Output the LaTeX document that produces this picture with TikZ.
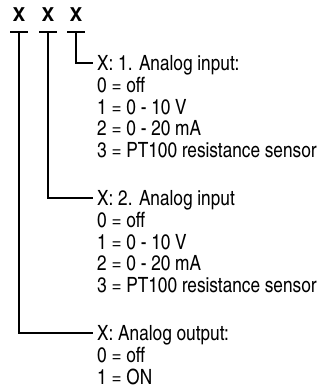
\documentclass[tikz,border=0pt]{standalone}
\usepackage{fontspec}
\setmainfont{texgyreheroscn}[Extension=.otf, UprightFont=*-regular, BoldFont=*-bold]
\newfontfamily\xfont{texgyreheros}[Extension=.otf, UprightFont=*-bold]
\usepackage{tikz}
\usetikzlibrary{positioning}

\begin{document}
\begin{tikzpicture}[x=1pt, y=1pt, font=\fontsize{21}{21.5}\selectfont]
    \tikzstyle{digit} = [font=\xfont\fontsize{19}{19}\selectfont, inner sep=0]
    \tikzstyle{head} = [anchor=west, inner xsep=4pt, inner ysep=0, text height=15pt, text depth=0pt]
    \tikzstyle{list} = [align=left, inner xsep=4pt, inner ysep=0]
    \tikzstyle{line} = [line width=1.8pt]
    \newcommand{\firstline}{\rule{0pt}{15pt}}

    \useasboundingbox (0,0) rectangle (320,-392);

    % the three digits
    \node (x1) [digit] at (19,-15) {X};
    \node (x2) [digit] at (48,-15) {X};
    \node (x3) [digit] at (76,-15) {X};
    \coordinate (t1) at (19,-32);
    \coordinate (t2) at (48,-32);
    \coordinate (t3) at (76,-32);

    % descriptions
    \node (in1) [head] at (93,-63) {X: 1. Analog input:};
    \node (in1v) [list, below right=6.5pt and 0pt of in1.south west] {\firstline 0 = off\\ 1 = 0 - 10 V\\ 2 = 0 - 20 mA\\ 3 = PT100 resistance sensor};
    \node (in2) [head] at (93,-198) {X: 2. Analog input};
    \node (in2v) [list, below right=6.5pt and 0pt of in2.south west] {\firstline 0 = off\\ 1 = 0 - 10 V\\ 2 = 0 - 20 mA\\ 3 = PT100 resistance sensor};
    \node (out) [head] at (93,-333) {X: Analog output:};
    \node (outv) [list, below right=6.5pt and 0pt of out.south west] {\firstline 0 = off\\ 1 = ON};

    \draw [line] (t1) ++(-9,0) -- ++(18,0);
    \draw [line] (t2) ++(-9,0) -- ++(18,0);
    \draw [line] (t3) ++(-9,0) -- ++(18,0);
    \draw [line] (t3) |- (in1);
    \draw [line] (t2) |- (in2);
    \draw [line] (t1) |- (out);
\end{tikzpicture}
\end{document}
